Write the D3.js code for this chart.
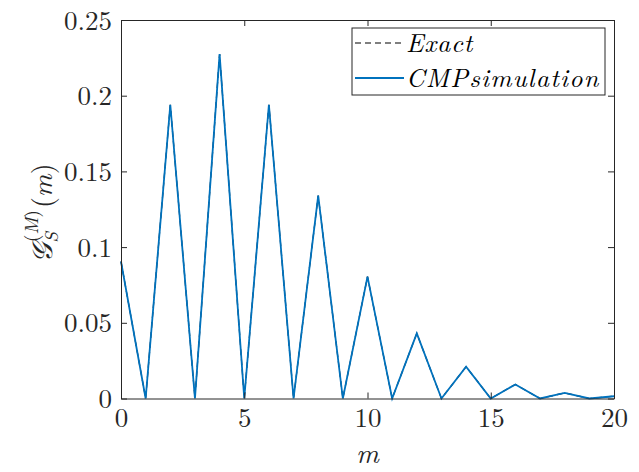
<!DOCTYPE html>
<html><head><meta charset="utf-8">
<script src="https://cdn.jsdelivr.net/npm/d3@7"></script>
<style>body{margin:0;background:#fff;}</style>
</head><body>
<svg id="c" width="639" height="472"></svg>
<script>
const mValues = [0,1,2,3,4,5,6,7,8,9,10,11,12,13,14,15,16,17,18,19,20];
const exactValues = [0.0905,0,0.194,0,0.2275,0,0.194,0,0.134,0,0.0805,0,0.043,0,0.021,0,0.0093,0,0.0037,0,0.0015];
const simValues   = [0.0905,0,0.194,0,0.2275,0,0.194,0,0.134,0,0.0805,0,0.043,0,0.021,0,0.0093,0,0.0037,0,0.0015];
const xTicks = [0,5,10,15,20];
const yTicks = [0,0.05,0.1,0.15,0.2,0.25];
const yTickLabels = ["0","0.05","0.1","0.15","0.2","0.25"];
const legendLabels = ["Exact","CMPsimulation"];

const FONT="Latin Modern Roman, CMU Serif, serif";
const L=121,R=614,T=20,B=398.5;
const svg=d3.select("#c");
const x=d3.scaleLinear().domain([0,20]).range([L,R]);
const y=d3.scaleLinear().domain([0,0.25]).range([B,T]);
const axisCol="#262626";

// lines
const line=d3.line().x((d,i)=>x(mValues[i])).y(d=>y(d));
svg.append("path").datum(exactValues).attr("d",line).attr("fill","none")
  .attr("stroke","#000").attr("stroke-width",1.2).attr("stroke-dasharray","6,4");
svg.append("path").datum(simValues).attr("d",line).attr("fill","none")
  .attr("stroke","#0072BD").attr("stroke-width",1.8);

// axes
const tl=6;
const gB=svg.append("g").attr("transform",`translate(0,${B})`)
  .call(d3.axisBottom(x).tickValues(xTicks).tickSizeInner(-tl).tickSizeOuter(0).tickPadding(10));
const gT=svg.append("g").attr("transform",`translate(0,${T})`)
  .call(d3.axisTop(x).tickValues(xTicks).tickSizeInner(-tl).tickSizeOuter(0).tickFormat(""));
const gL=svg.append("g").attr("transform",`translate(${L},0)`)
  .call(d3.axisLeft(y).tickValues(yTicks).tickSizeInner(-tl).tickSizeOuter(0).tickPadding(9)
  .tickFormat((d,i)=>yTickLabels[i]));
const gR=svg.append("g").attr("transform",`translate(${R},0)`)
  .call(d3.axisRight(y).tickValues(yTicks).tickSizeInner(-tl).tickSizeOuter(0).tickFormat(""));
[gB,gT,gL,gR].forEach(g=>{
  g.attr("font-family",FONT).attr("font-size",27);
  g.selectAll(".domain").attr("stroke",axisCol).attr("stroke-width",1);
  g.selectAll(".tick line").attr("stroke",axisCol).attr("stroke-width",1);
  g.selectAll("text").attr("fill","#262626");
});
gB.selectAll("text").attr("dy","0.7em");
gL.selectAll("text").attr("dy","0.34em");

// x label
svg.append("text").attr("x",(L+R)/2).attr("y",463).attr("text-anchor","middle")
  .attr("font-family",FONT).attr("font-size",28).attr("font-style","italic")
  .attr("fill","#262626").text("m");

// y label
const yl=svg.append("text").attr("transform","translate(52,213) rotate(-90)")
  .attr("text-anchor","middle").attr("fill","#262626")
  .attr("font-family",FONT).attr("font-size",28);
yl.append("tspan").attr("font-style","italic").text("𝒢");
yl.append("tspan").attr("dy",6).attr("font-size",19).attr("font-style","italic").text("S");
yl.append("tspan").attr("dx",-10).attr("dy",-20).attr("font-size",19).text("(");
yl.append("tspan").attr("font-size",19).attr("font-style","italic").text("M");
yl.append("tspan").attr("font-size",19).text(")");
yl.append("tspan").attr("dx",2).attr("dy",14).text("(");
yl.append("tspan").attr("font-style","italic").text("m");
yl.append("tspan").text(")");

// legend
const lx=352, ly=28, lw=253, lh=67;
svg.append("rect").attr("x",lx).attr("y",ly).attr("width",lw).attr("height",lh)
  .attr("fill","#fff").attr("stroke",axisCol).attr("stroke-width",1);
const rows=[{y:43,dash:"6,4",col:"#000",w:1.2,ls:0.7},{y:78,dash:null,col:"#0072BD",w:1.8,ls:1.2}];
rows.forEach((r,i)=>{
  svg.append("line").attr("x1",lx+3).attr("x2",lx+52).attr("y1",r.y).attr("y2",r.y)
    .attr("stroke",r.col).attr("stroke-width",r.w).attr("stroke-dasharray",r.dash);
  svg.append("text").attr("x",lx+54).attr("y",r.y).attr("dy","0.33em")
    .attr("font-family",FONT).attr("font-size",26).attr("font-style","italic")
    .attr("letter-spacing",r.ls).attr("fill","#000").text(legendLabels[i]);
});
</script>
</body></html>
